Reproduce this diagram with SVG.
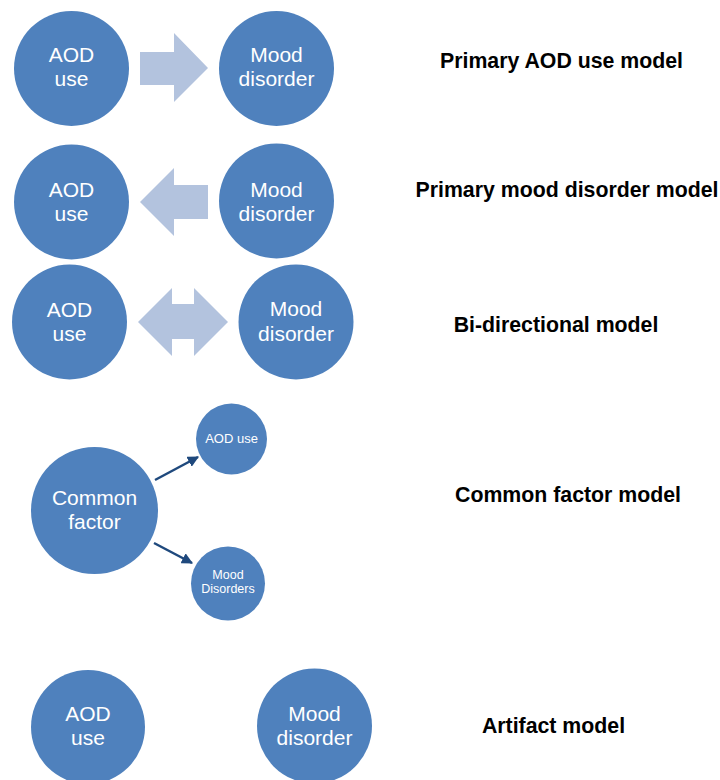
<svg xmlns="http://www.w3.org/2000/svg" width="720" height="780" viewBox="0 0 720 780">
<style>
.node{fill:#4f81bd}
.nt{fill:#ffffff;font-family:"Liberation Sans",Arial,sans-serif;font-size:21px;text-anchor:middle}
.ns{font-size:13px}
.nxs{font-size:12.5px}
.lbl{fill:#000000;font-family:"Liberation Sans",Arial,sans-serif;font-size:21.3px;font-weight:bold;text-anchor:middle}
.blk{fill:#b3c3de}
.con{stroke:#1f497d;stroke-width:2.5;fill:none}
</style>
<defs>
<marker id="ah" viewBox="0 0 10 10" refX="9" refY="5" markerWidth="4.5" markerHeight="4.5" orient="auto" markerUnits="strokeWidth">
<path d="M0,0 L10,5 L0,10 Z" fill="#1f497d"/>
</marker>
</defs>
<rect width="720" height="780" fill="#ffffff"/>

<g id="connectors">
<polygon class="blk" points="140,52 174,52 174,33 208,68 174,102 174,85 140,85"/>
<polygon class="blk" points="208,185 174,185 174,168 140,202 174,236 174,219 208,219"/>
<polygon class="blk" points="138,322 172,288 172,304 194,304 194,288 228,322 194,356 194,339 172,339 172,356"/>
<line class="con" x1="155" y1="480" x2="198" y2="457" marker-end="url(#ah)"/>
<line class="con" x1="154" y1="543" x2="192" y2="563" marker-end="url(#ah)"/>
</g>

<g id="r1-aod">
<circle class="node" cx="71.5" cy="68.5" r="57.5"/>
<text class="nt" x="71.5" y="62">AOD</text>
<text class="nt" x="71.5" y="86">use</text>
</g>
<g id="r1-mood">
<circle class="node" cx="276.5" cy="68.5" r="57.5"/>
<text class="nt" x="276.5" y="62">Mood</text>
<text class="nt" x="276.5" y="86">disorder</text>
</g>
<g id="r2-aod">
<circle class="node" cx="71.5" cy="202" r="57.5"/>
<text class="nt" x="71.5" y="197">AOD</text>
<text class="nt" x="71.5" y="221">use</text>
</g>
<g id="r2-mood">
<circle class="node" cx="276.5" cy="201" r="57.5"/>
<text class="nt" x="276.5" y="197">Mood</text>
<text class="nt" x="276.5" y="221">disorder</text>
</g>
<g id="r3-aod">
<circle class="node" cx="69.5" cy="322" r="57.5"/>
<text class="nt" x="69.5" y="317">AOD</text>
<text class="nt" x="69.5" y="341">use</text>
</g>
<g id="r3-mood">
<circle class="node" cx="296" cy="322" r="57.5"/>
<text class="nt" x="296" y="316">Mood</text>
<text class="nt" x="296" y="341">disorder</text>
</g>
<g id="r4-common">
<circle class="node" cx="94.5" cy="510.5" r="63.5"/>
<text class="nt" x="94.5" y="505">Common</text>
<text class="nt" x="94.5" y="529">factor</text>
</g>
<g id="r4-aod">
<circle class="node" cx="231.5" cy="439" r="35.5"/>
<text class="nt ns" x="231.5" y="443">AOD use</text>
</g>
<g id="r4-mood">
<circle class="node" cx="228" cy="583.5" r="37"/>
<text class="nt nxs" x="228" y="579">Mood</text>
<text class="nt nxs" x="228" y="593">Disorders</text>
</g>
<g id="r5-aod">
<circle class="node" cx="88" cy="727" r="57"/>
<text class="nt" x="88" y="721">AOD</text>
<text class="nt" x="88" y="745">use</text>
</g>
<g id="r5-mood">
<circle class="node" cx="314.5" cy="726" r="57.5"/>
<text class="nt" x="314.5" y="721">Mood</text>
<text class="nt" x="314.5" y="745">disorder</text>
</g>

<g id="labels">
<text class="lbl" x="561.5" y="68">Primary AOD use model</text>
<text class="lbl" x="567" y="197">Primary mood disorder model</text>
<text class="lbl" x="556" y="332">Bi-directional model</text>
<text class="lbl" x="568" y="502">Common factor model</text>
<text class="lbl" x="553.5" y="733">Artifact model</text>
</g>
</svg>
